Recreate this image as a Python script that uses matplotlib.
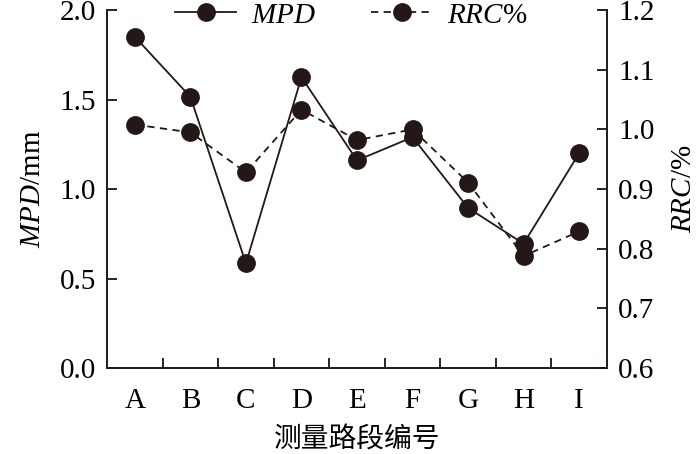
import matplotlib
matplotlib.use("Agg")
import matplotlib.pyplot as plt
from matplotlib.ticker import FixedLocator, NullFormatter

plt.rcParams['font.family'] = ['Liberation Serif', 'Noto Sans CJK SC']
plt.rcParams['mathtext.fontset'] = 'custom'
plt.rcParams['mathtext.rm'] = 'Liberation Serif'
plt.rcParams['mathtext.it'] = 'Liberation Serif:italic'

# data
sections = ['A', 'B', 'C', 'D', 'E', 'F', 'G', 'H', 'I']
mpd = [1.85, 1.515, 0.585, 1.625, 1.16, 1.29, 0.895, 0.695, 1.20]
rrc = [1.008, 0.995, 0.928, 1.033, 0.982, 1.0, 0.911, 0.788, 0.829]

fig = plt.figure(figsize=(7, 4.54), dpi=100)
ax = fig.add_axes([0.153, 0.189, 0.714, 0.789])
ax2 = ax.twinx()

x = list(range(len(sections)))
l1, = ax.plot(x, mpd, '-', color='#231815', lw=1.3, marker='o', ms=12.5,
              label=r'$\mathit{MPD}$')
l2, = ax2.plot(x, rrc, '--', color='#231815', lw=1.3, marker='o', ms=12.5,
               dashes=(4, 3), label=r'$\mathit{RRC}$%')

ax.set_xlim(-0.5, len(sections) - 0.5)
ax.set_ylim(0, 2.0)
ax2.set_ylim(0.6, 1.2)
ax.set_yticks([0, 0.5, 1.0, 1.5, 2.0])
ax.set_yticklabels(['0.0', '0.5', '1.0', '1.5', '2.0'])
ax2.set_yticks([0.6, 0.7, 0.8, 0.9, 1.0, 1.1, 1.2])
ax2.set_yticklabels(['0.6', '0.7', '0.8', '0.9', '1.0', '1.1', '1.2'])

ax.set_xticks(x)
ax.set_xticklabels(sections)
ax.xaxis.set_minor_locator(FixedLocator([i + 0.5 for i in x[:-1]]))
ax.xaxis.set_minor_formatter(NullFormatter())
ax.tick_params(axis='x', which='major', length=0, pad=14)
ax.tick_params(axis='x', which='minor', direction='in', length=7, width=1.2)
ax.tick_params(axis='y', direction='in', length=7, width=1.2, pad=8)
ax2.tick_params(axis='y', direction='in', length=7, width=1.2, pad=8)
ax.tick_params(labelsize=21)
ax2.tick_params(labelsize=21)

for a in (ax, ax2):
    a.spines['top'].set_visible(False)
    for s in a.spines.values():
        s.set_linewidth(1.2)
        s.set_color('#231815')

ax.set_ylabel(r'$\mathit{MPD}$/mm', fontsize=21, labelpad=10)
ax2.set_ylabel(r'$\mathit{RRC}$/%', fontsize=21, labelpad=12)
ax.set_xlabel('测量路段编号', fontsize=20, family='Noto Sans CJK SC', labelpad=8)

ax.legend([l1, l2], [l1.get_label(), l2.get_label()], ncol=2, frameon=False,
          loc='center left', bbox_to_anchor=(0.136, 0.985), fontsize=21,
          handlelength=2.1, columnspacing=1.9, borderaxespad=0, borderpad=0,
          handletextpad=0.5)

fig.savefig('out.png', dpi=100)
